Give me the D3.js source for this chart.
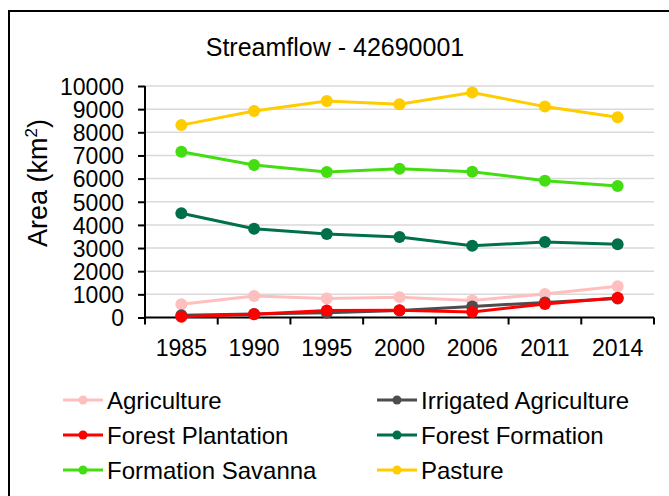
<!DOCTYPE html>
<html><head><meta charset="utf-8">
<script src="https://cdn.jsdelivr.net/npm/d3@7"></script>
<style>body{margin:0;background:#fff}svg{display:block}</style>
</head><body>
<svg id="c" width="669" height="496"></svg>
<script>
const years = ["1985","1990","1995","2000","2006","2011","2014"];
const seriesNames = ["Agriculture","Irrigated Agriculture","Forest Plantation","Forest Formation","Formation Savanna","Pasture"];
const agriculture = [570, 930, 820, 880, 730, 1020, 1350];
const irrigated = [100, 150, 210, 300, 480, 650, 820];
const forestPlantation = [30, 140, 300, 310, 240, 580, 850];
const forestFormation = [4500, 3830, 3610, 3480, 3100, 3260, 3160];
const savanna = [7160, 6590, 6290, 6430, 6300, 5910, 5680];
const pasture = [8310, 8920, 9350, 9210, 9720, 9110, 8650];
const colors = ["#ffbfbf","#4d4d4d","#ff0000","#00704a","#44dd11","#ffcc00"];
const yTicks = [0,1000,2000,3000,4000,5000,6000,7000,8000,9000,10000];
const values = [agriculture, irrigated, forestPlantation, forestFormation, savanna, pasture];

const svg = d3.select("#c");
const font = "Arial, 'Liberation Sans', sans-serif";

svg.append("rect").attr("x",9).attr("y",11).attr("width",700).attr("height",520)
  .attr("fill","#fff").attr("stroke","#000").attr("stroke-width",2);

const x = d3.scaleBand().domain(years).range([145,654]);
const y = d3.scaleLinear().domain([0,10000]).range([317.5,86]);

// gridlines
svg.append("g").selectAll("line").data(yTicks.filter(d=>d>0)).join("line")
  .attr("x1",145).attr("x2",654).attr("y1",d=>y(d)).attr("y2",d=>y(d))
  .attr("stroke","#d9d9d9").attr("stroke-width",1.5);

// y axis
const ya = svg.append("g").attr("transform","translate(145,0)")
  .call(d3.axisLeft(y).tickValues(yTicks).tickSize(7).tickPadding(14).tickFormat(d3.format("d")));
ya.select(".domain").attr("stroke","#000").attr("stroke-width",2).attr("d","M0,"+y(10000)+"V"+y(0));
ya.selectAll(".tick line").attr("stroke","#000").attr("stroke-width",2);
ya.selectAll(".tick text").attr("font-family",font).attr("font-size",23).attr("fill","#000").attr("dy","0.36em");

// x axis
const xa = svg.append("g").attr("transform","translate(0,"+y(0)+")")
  .call(d3.axisBottom(x).tickSize(0).tickPadding(22));
xa.select(".domain").attr("stroke","#000").attr("stroke-width",2).attr("d","M145,0H654");
xa.selectAll(".tick text").attr("font-family",font).attr("font-size",23).attr("fill","#000");
const edges = years.map(d=>x(d)).concat([x(years[years.length-1])+x.bandwidth()]);
xa.append("g").selectAll("line").data(edges).join("line")
  .attr("x1",d=>d).attr("x2",d=>d).attr("y1",0).attr("y2",7)
  .attr("stroke","#000").attr("stroke-width",2);

// series
const line = d3.line().x((d,i)=>x(years[i])+x.bandwidth()/2).y(d=>y(d));
values.forEach((vals,k)=>{
  const g = svg.append("g");
  g.append("path").attr("d",line(vals)).attr("fill","none").attr("stroke",colors[k]).attr("stroke-width",3);
  g.selectAll("circle").data(vals).join("circle")
    .attr("cx",(d,i)=>x(years[i])+x.bandwidth()/2).attr("cy",d=>y(d)).attr("r",6).attr("fill",colors[k]);
});

// title
svg.append("text").attr("x",335).attr("y",56).attr("text-anchor","middle")
  .attr("font-family",font).attr("font-size",25).attr("fill","#000").text("Streamflow - 42690001");

// y title
const yt = svg.append("text").attr("transform","translate(47,183) rotate(-90)").attr("text-anchor","middle")
  .attr("font-family",font).attr("font-size",27).attr("fill","#000");
yt.append("tspan").text("Area (km");
yt.append("tspan").attr("font-size",17).attr("dy",-10).text("2");
yt.append("tspan").attr("dy",10).text(")");

// legend
const legX = [63, 377], legY = [400, 435, 470];
seriesNames.forEach((name,k)=>{
  const lx = legX[k%2], ly = legY[Math.floor(k/2)];
  const g = svg.append("g");
  g.append("line").attr("x1",lx).attr("x2",lx+40).attr("y1",ly).attr("y2",ly).attr("stroke",colors[k]).attr("stroke-width",3);
  g.append("circle").attr("cx",lx+20).attr("cy",ly).attr("r",4.5).attr("fill",colors[k]);
  g.append("text").attr("x",lx+44).attr("y",ly).attr("dy","0.36em").attr("font-family",font)
    .attr("font-size",24).attr("fill","#000").text(name);
});
</script>
</body></html>
